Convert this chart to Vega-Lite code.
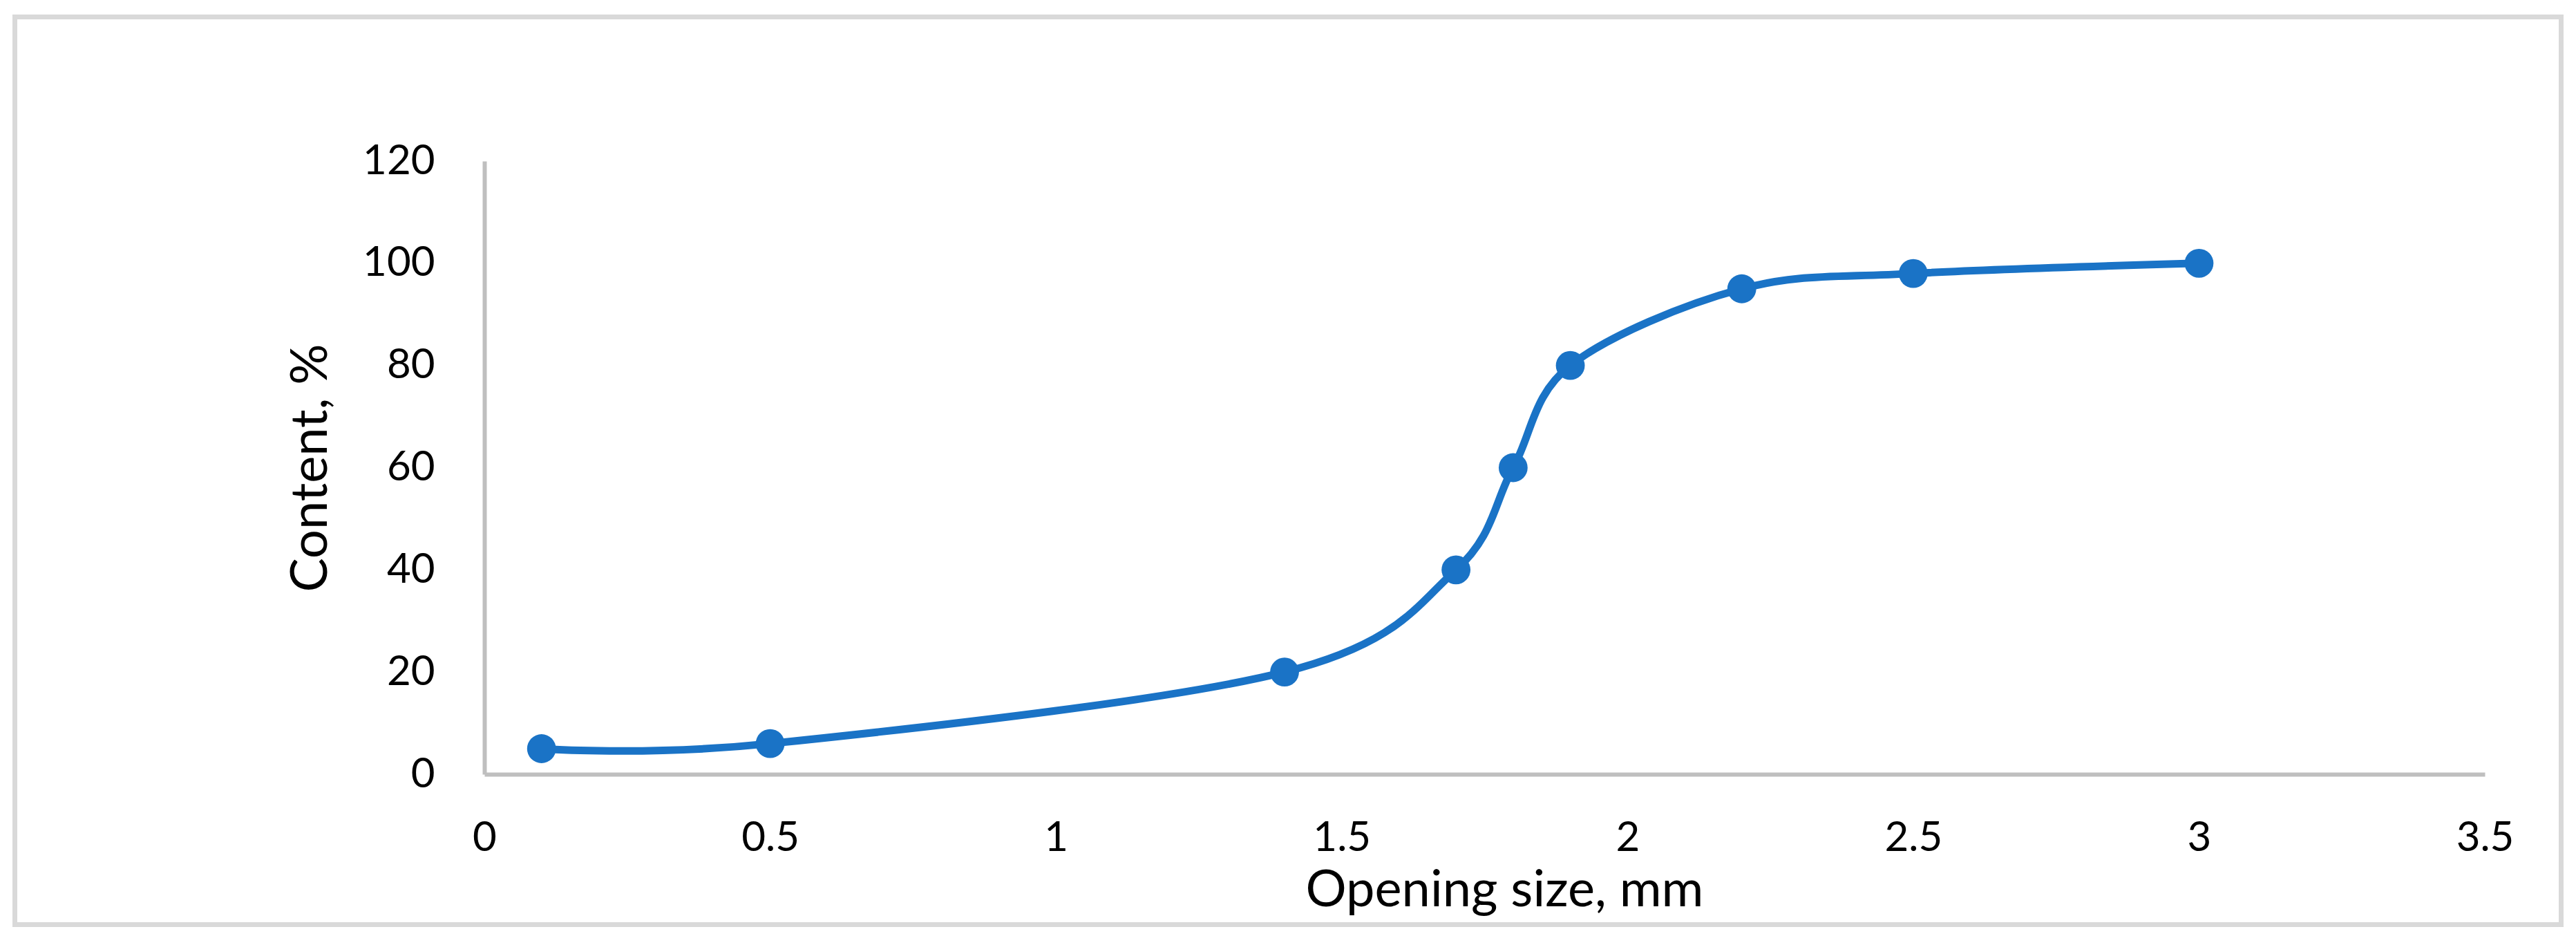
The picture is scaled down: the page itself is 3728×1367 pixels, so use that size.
{
  "$schema": "https://vega.github.io/schema/vega-lite/v6.json",
  "autosize": "none",
  "width": 2895,
  "height": 887,
  "padding": {"left": 701, "top": 233, "right": 132, "bottom": 247},
  "background": "white",
  "config": {
    "view": {"stroke": null},
    "font": "Lato",
    "axis": {
      "domainColor": "#bfbfbf",
      "domainWidth": 6,
      "ticks": false,
      "grid": false,
      "labelFont": "Lato",
      "labelFontSize": 60,
      "labelColor": "#000000",
      "titleFont": "Lato",
      "titleFontSize": 74,
      "titleFontWeight": "normal",
      "titleColor": "#000000"
    }
  },
  "data": {
    "values": [
      {"size": 0.1, "content": 5},
      {"size": 0.5, "content": 6},
      {"size": 1.4, "content": 20},
      {"size": 1.7, "content": 40},
      {"size": 1.8, "content": 60},
      {"size": 1.9, "content": 80},
      {"size": 2.2, "content": 95},
      {"size": 2.5, "content": 98},
      {"size": 3.0, "content": 100}
    ]
  },
  "layer": [
    {
      "mark": {"type": "rect", "fill": null, "stroke": "#d9d9d9", "strokeWidth": 7, "clip": false},
      "encoding": {
        "x": {"datum": -0.8215, "type": "quantitative"},
        "x2": {"datum": 3.6336},
        "y": {"datum": 148.21, "type": "quantitative"},
        "y2": {"datum": -29.43}
      }
    },
    {
      "mark": {"type": "line", "interpolate": "cardinal", "tension": 0, "color": "#1a73c6", "strokeWidth": 11},
      "encoding": {
        "x": {
          "field": "size", "type": "quantitative",
          "scale": {"domain": [0, 3.5], "nice": false},
          "axis": {"title": "Opening size, mm", "values": [0, 0.5, 1, 1.5, 2, 2.5, 3, 3.5], "format": "~g", "labelPadding": 63, "titlePadding": 10, "titleX": 1476, "titleAlign": "center", "labelFlush": false}
        },
        "y": {
          "field": "content", "type": "quantitative",
          "scale": {"domain": [0, 120], "nice": false},
          "axis": {"title": "Content, %", "values": [0, 20, 40, 60, 80, 100, 120], "format": "~g", "labelPadding": 72, "titlePadding": 36}
        }
      }
    },
    {
      "mark": {"type": "point", "shape": "circle", "filled": true, "opacity": 1, "color": "#1a73c6", "size": 1750},
      "encoding": {
        "x": {"field": "size", "type": "quantitative"},
        "y": {"field": "content", "type": "quantitative"}
      }
    }
  ]
}
